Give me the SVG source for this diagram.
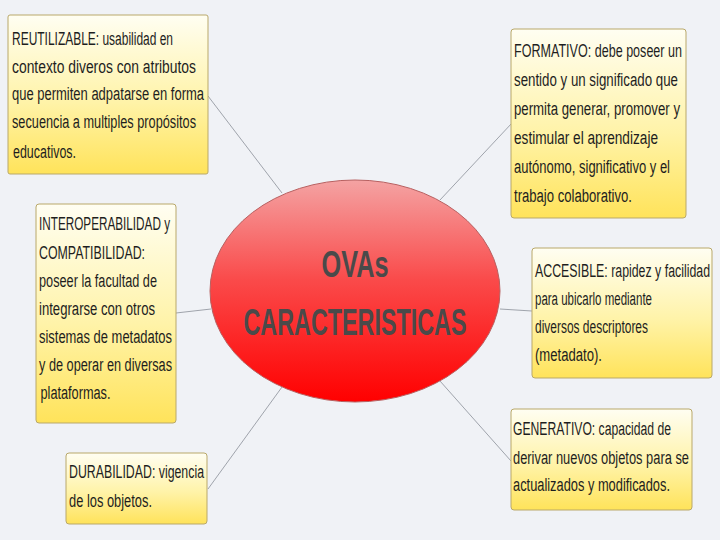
<svg xmlns="http://www.w3.org/2000/svg" width="720" height="540" viewBox="0 0 720 540">
<defs>
<linearGradient id="boxg" x1="0" y1="0" x2="0" y2="1">
<stop offset="0" stop-color="#fffef2"/>
<stop offset="0.55" stop-color="#fff3a8"/>
<stop offset="1" stop-color="#ffe35a"/>
</linearGradient>
<linearGradient id="ellg" x1="0" y1="0" x2="0" y2="1">
<stop offset="0" stop-color="#f4a3a3"/>
<stop offset="0.45" stop-color="#fa4a4a"/>
<stop offset="1" stop-color="#ff0000"/>
</linearGradient>
<style>
.box{fill:url(#boxg);stroke:#b9a86a;stroke-width:1}
.t{font-family:"Liberation Sans",Arial,sans-serif;font-size:18px;fill:#1e1e1e}
.title{font-family:"Liberation Sans",Arial,sans-serif;font-weight:bold;font-size:37px;fill:#4a4a4a;text-anchor:middle}
.conn line{stroke:#8a8f98;stroke-width:0.8}
</style>
</defs>
<rect width="720" height="540" fill="#f0f2f6"/>
<g id="connectors" class="conn">
<line x1="208" y1="96" x2="282" y2="193"/>
<line x1="512" y1="123" x2="440" y2="200"/>
<line x1="176" y1="313" x2="211" y2="309"/>
<line x1="500" y1="309" x2="532" y2="311"/>
<line x1="282" y1="387" x2="208" y2="489"/>
<line x1="440" y1="381" x2="511" y2="461"/>
</g>
<g id="center">
<ellipse cx="355" cy="291" rx="145" ry="111" fill="url(#ellg)" stroke="#b86060" stroke-width="1"/>
<text class="title" x="355" y="277" textLength="67" lengthAdjust="spacingAndGlyphs">OVAs</text>
<text class="title" x="355" y="335" textLength="223" lengthAdjust="spacingAndGlyphs">CARACTERISTICAS</text>
</g>
<g id="reutilizable">
<rect class="box" x="8" y="15" width="200" height="159" rx="2"/>
<text class="t" x="12" y="45" textLength="161" lengthAdjust="spacingAndGlyphs">REUTILIZABLE: usabilidad en</text>
<text class="t" x="12" y="72.5" textLength="184" lengthAdjust="spacingAndGlyphs">contexto diveros con atributos</text>
<text class="t" x="12" y="100" textLength="192" lengthAdjust="spacingAndGlyphs">que permiten adpatarse en forma</text>
<text class="t" x="12" y="127.5" textLength="184" lengthAdjust="spacingAndGlyphs">secuencia a multiples propósitos</text>
<text class="t" x="13" y="158" textLength="63" lengthAdjust="spacingAndGlyphs">educativos.</text>
</g>
<g id="formativo">
<rect class="box" x="511" y="29" width="175" height="189" rx="3"/>
<text class="t" x="514" y="57" textLength="168" lengthAdjust="spacingAndGlyphs">FORMATIVO: debe poseer un</text>
<text class="t" x="514" y="86" textLength="164" lengthAdjust="spacingAndGlyphs">sentido y un significado que</text>
<text class="t" x="514" y="115" textLength="166" lengthAdjust="spacingAndGlyphs">permita generar, promover y</text>
<text class="t" x="514" y="144" textLength="144" lengthAdjust="spacingAndGlyphs">estimular el aprendizaje</text>
<text class="t" x="514" y="173" textLength="156" lengthAdjust="spacingAndGlyphs">autónomo, significativo y el</text>
<text class="t" x="514" y="202" textLength="118" lengthAdjust="spacingAndGlyphs">trabajo colaborativo.</text>
</g>
<g id="interoperabilidad">
<rect class="box" x="36" y="204" width="140" height="219" rx="3"/>
<text class="t" x="39" y="230" textLength="131" lengthAdjust="spacingAndGlyphs">INTEROPERABILIDAD y</text>
<text class="t" x="39" y="258.5" textLength="106" lengthAdjust="spacingAndGlyphs">COMPATIBILIDAD:</text>
<text class="t" x="39" y="287" textLength="118" lengthAdjust="spacingAndGlyphs">poseer la facultad de</text>
<text class="t" x="39" y="315" textLength="116" lengthAdjust="spacingAndGlyphs">integrarse con otros</text>
<text class="t" x="39" y="342.5" textLength="133" lengthAdjust="spacingAndGlyphs">sistemas de metadatos</text>
<text class="t" x="39" y="370.5" textLength="133" lengthAdjust="spacingAndGlyphs">y de operar en diversas</text>
<text class="t" x="40.5" y="399" textLength="70" lengthAdjust="spacingAndGlyphs">plataformas.</text>
</g>
<g id="accesible">
<rect class="box" x="532" y="248" width="180" height="130" rx="3"/>
<text class="t" x="535" y="277" textLength="175" lengthAdjust="spacingAndGlyphs">ACCESIBLE: rapidez y facilidad</text>
<text class="t" x="535" y="304.5" textLength="117" lengthAdjust="spacingAndGlyphs">para ubicarlo mediante</text>
<text class="t" x="535" y="332.5" textLength="113" lengthAdjust="spacingAndGlyphs">diversos descriptores</text>
<text class="t" x="535" y="361" textLength="67" lengthAdjust="spacingAndGlyphs">(metadato).</text>
</g>
<g id="durabilidad">
<rect class="box" x="66" y="453" width="141" height="71" rx="3"/>
<text class="t" x="69" y="478" textLength="135" lengthAdjust="spacingAndGlyphs">DURABILIDAD: vigencia</text>
<text class="t" x="69" y="507" textLength="83" lengthAdjust="spacingAndGlyphs">de los objetos.</text>
</g>
<g id="generativo">
<rect class="box" x="511" y="409" width="181" height="101" rx="3"/>
<text class="t" x="513" y="435" textLength="158" lengthAdjust="spacingAndGlyphs">GENERATIVO: capacidad de</text>
<text class="t" x="513" y="463.5" textLength="176" lengthAdjust="spacingAndGlyphs">derivar nuevos objetos para se</text>
<text class="t" x="513" y="491" textLength="157" lengthAdjust="spacingAndGlyphs">actualizados y modificados.</text>
</g>
</svg>
